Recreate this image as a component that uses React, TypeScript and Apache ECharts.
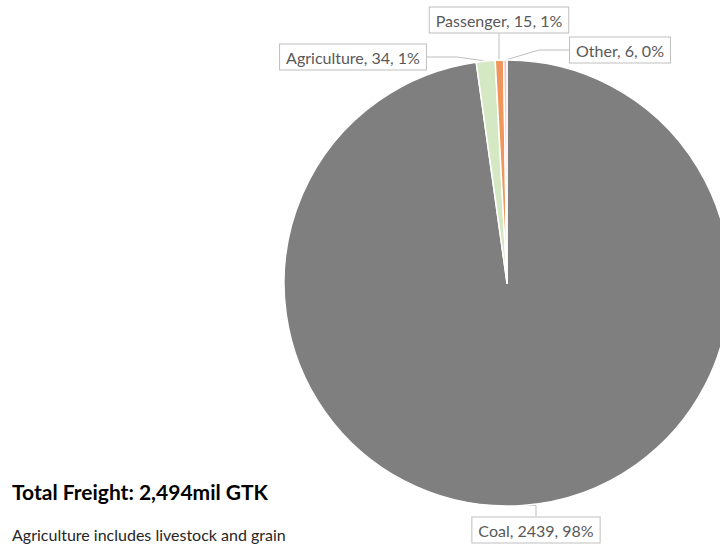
import React, { useEffect, useRef } from "react";
import * as echarts from "echarts";

const categories = ["Coal", "Agriculture", "Passenger", "Other"];
const values = [2439, 34, 15, 6];
const sliceColors = ["#7f7f7f", "#d5e8c4", "#f0965a", "#f5c0cf"];
const labelPositions: [number, number][] = [
  [536, 530],
  [353, 57],
  [499, 20],
  [620, 50],
];
const titleText = "Total Freight: 2,494mil GTK";
const noteText = "Agriculture includes livestock and grain";

export default function App() {
  const ref = useRef<HTMLDivElement>(null);
  useEffect(() => {
    document.body.style.margin = "0";
    const chart = echarts.init(ref.current!, null, { renderer: "svg" });
    chart.setOption({
      animation: false,
      backgroundColor: "#ffffff",
      graphic: [
        {
          type: "text",
          left: 12,
          top: 481,
          style: {
            text: titleText,
            font: "bold 21px Lato, 'Noto Sans', sans-serif",
            fill: "#000000",
          },
        },
        {
          type: "text",
          left: 12,
          top: 526,
          style: {
            text: noteText,
            font: "16px Lato, 'Noto Sans', sans-serif",
            fill: "#262626",
          },
        },
      ],
      series: [
        {
          type: "pie",
          center: [507, 283],
          radius: [0, 223],
          startAngle: 90,
          clockwise: true,
          percentPrecision: 0,
          avoidLabelOverlap: false,
          itemStyle: { borderColor: "#ffffff", borderWidth: 1.5 },
          label: {
            show: true,
            formatter: "{b}, {c}, {d}%",
            color: "#595959",
            fontFamily: "Lato, 'Noto Sans', sans-serif",
            fontSize: 16,
            backgroundColor: "#ffffff",
            borderColor: "#bfbfbf",
            borderWidth: 1,
            padding: [5, 6, 4, 6],
          },
          labelLine: {
            show: true,
            lineStyle: { color: "#bfbfbf", width: 1 },
          },
          labelLayout: (params: any) => {
            const p = labelPositions[params.dataIndex];
            return { x: p[0], y: p[1], align: "center", verticalAlign: "middle" };
          },
          data: categories.map((c, i) => ({
            name: c,
            value: values[i],
            itemStyle: { color: sliceColors[i] },
          })),
        },
      ],
    });
    return () => chart.dispose();
  }, []);
  return <div ref={ref} style={{ width: 720, height: 548 }} />;
}
